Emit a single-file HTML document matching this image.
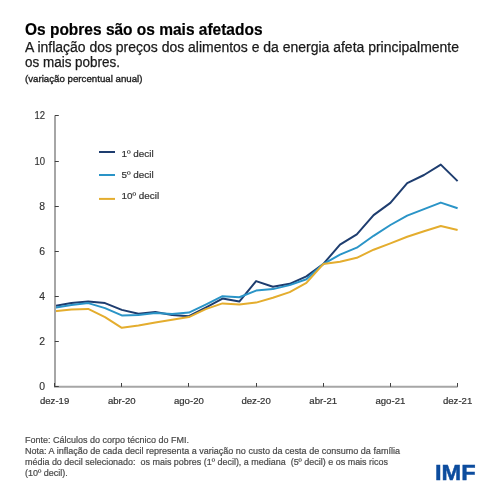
<!DOCTYPE html>
<html><head><meta charset="utf-8"><style>
html,body{margin:0;padding:0;background:#fff;width:499px;height:499px;overflow:hidden}
svg{display:block;will-change:transform}
</style></head><body>
<svg width="499" height="499" viewBox="0 0 499 499" font-family="Liberation Sans, sans-serif">
<rect width="499" height="499" fill="#fff"/>
<text x="25" y="34.5" font-size="16.8" font-weight="bold" fill="#000" stroke="#000" stroke-width="0.2" textLength="237.5" lengthAdjust="spacingAndGlyphs">Os pobres são os mais afetados</text>
<text x="25" y="51.6" font-size="14" fill="#1a1a1a" stroke="#1a1a1a" stroke-width="0.25" textLength="434" lengthAdjust="spacingAndGlyphs">A inflação dos preços dos alimentos e da energia afeta principalmente</text>
<text x="25" y="67.3" font-size="14" fill="#1a1a1a" stroke="#1a1a1a" stroke-width="0.25" textLength="95" lengthAdjust="spacingAndGlyphs">os mais pobres.</text>
<text x="25" y="81.7" font-size="9.8" fill="#222" stroke="#222" stroke-width="0.35" textLength="117.5" lengthAdjust="spacingAndGlyphs">(variação percentual anual)</text>
<polyline points="54.6,306.1 71.4,303.1 88.2,301.6 105.0,303.1 121.8,309.9 138.5,313.8 155.3,312.1 172.1,315.1 188.9,316.2 205.7,307.6 222.5,298.6 239.3,301.6 256.1,281.1 272.9,286.8 289.7,283.8 306.4,276.4 323.2,264.1 340.0,244.7 356.8,234.3 373.6,215.1 390.4,202.9 407.2,183.1 424.0,175.0 440.8,164.6 457.6,181.1" fill="none" stroke="#1e3d6f" stroke-width="2" stroke-linejoin="round"/>
<polyline points="54.6,307.8 71.4,305.1 88.2,303.1 105.0,308.1 121.8,315.4 138.5,315.1 155.3,313.1 172.1,314.1 188.9,312.6 205.7,304.6 222.5,296.2 239.3,297.2 256.1,290.6 272.9,289.1 289.7,285.1 306.4,279.2 323.2,264.1 340.0,254.7 356.8,247.7 373.6,235.8 390.4,225.0 407.2,215.6 424.0,209.1 440.8,202.6 457.6,208.3" fill="none" stroke="#2a94c7" stroke-width="2" stroke-linejoin="round"/>
<polyline points="54.6,311.3 71.4,309.6 88.2,308.9 105.0,317.1 121.8,327.8 138.5,325.6 155.3,322.6 172.1,319.8 188.9,317.1 205.7,309.1 222.5,303.4 239.3,304.6 256.1,302.6 272.9,297.8 289.7,292.1 306.4,282.9 323.2,264.1 340.0,261.8 356.8,257.8 373.6,249.7 390.4,243.4 407.2,236.8 424.0,231.2 440.8,226.0 457.6,230.0" fill="none" stroke="#e4ad2e" stroke-width="2" stroke-linejoin="round"/>
<polyline points="55,115.8 55,386.8 457.6,386.8" fill="none" stroke="#a6a6a6" stroke-width="2"/>
<line x1="54.8" y1="386.5" x2="58.8" y2="386.5" stroke="#404040" stroke-width="1"/><text x="45" y="390.4" text-anchor="end" font-size="10.4" fill="#333333" stroke="#333333" stroke-width="0.15">0</text><line x1="54.8" y1="341.5" x2="58.8" y2="341.5" stroke="#404040" stroke-width="1"/><text x="45" y="345.2" text-anchor="end" font-size="10.4" fill="#333333" stroke="#333333" stroke-width="0.15">2</text><line x1="54.8" y1="296.5" x2="58.8" y2="296.5" stroke="#404040" stroke-width="1"/><text x="45" y="300.1" text-anchor="end" font-size="10.4" fill="#333333" stroke="#333333" stroke-width="0.15">4</text><line x1="54.8" y1="251.5" x2="58.8" y2="251.5" stroke="#404040" stroke-width="1"/><text x="45" y="254.9" text-anchor="end" font-size="10.4" fill="#333333" stroke="#333333" stroke-width="0.15">6</text><line x1="54.8" y1="206.5" x2="58.8" y2="206.5" stroke="#404040" stroke-width="1"/><text x="45" y="209.8" text-anchor="end" font-size="10.4" fill="#333333" stroke="#333333" stroke-width="0.15">8</text><line x1="54.8" y1="161.5" x2="58.8" y2="161.5" stroke="#404040" stroke-width="1"/><text x="45" y="164.6" text-anchor="end" font-size="10.4" fill="#333333" stroke="#333333" stroke-width="0.15" textLength="10.6" lengthAdjust="spacingAndGlyphs">10</text><line x1="54.8" y1="115.5" x2="58.8" y2="115.5" stroke="#404040" stroke-width="1"/><text x="45" y="119.4" text-anchor="end" font-size="10.4" fill="#333333" stroke="#333333" stroke-width="0.15" textLength="10.6" lengthAdjust="spacingAndGlyphs">12</text>
<line x1="54.5" y1="383" x2="54.5" y2="386.8" stroke="#404040" stroke-width="1"/><text x="54.6" y="404" text-anchor="middle" font-size="9.6" fill="#333333" stroke="#333333" stroke-width="0.2">dez-19</text><line x1="121.5" y1="383" x2="121.5" y2="386.8" stroke="#404040" stroke-width="1"/><text x="121.8" y="404" text-anchor="middle" font-size="9.6" fill="#333333" stroke="#333333" stroke-width="0.2">abr-20</text><line x1="188.5" y1="383" x2="188.5" y2="386.8" stroke="#404040" stroke-width="1"/><text x="188.9" y="404" text-anchor="middle" font-size="9.6" fill="#333333" stroke="#333333" stroke-width="0.2">ago-20</text><line x1="256.5" y1="383" x2="256.5" y2="386.8" stroke="#404040" stroke-width="1"/><text x="256.1" y="404" text-anchor="middle" font-size="9.6" fill="#333333" stroke="#333333" stroke-width="0.2">dez-20</text><line x1="323.5" y1="383" x2="323.5" y2="386.8" stroke="#404040" stroke-width="1"/><text x="323.2" y="404" text-anchor="middle" font-size="9.6" fill="#333333" stroke="#333333" stroke-width="0.2">abr-21</text><line x1="390.5" y1="383" x2="390.5" y2="386.8" stroke="#404040" stroke-width="1"/><text x="390.4" y="404" text-anchor="middle" font-size="9.6" fill="#333333" stroke="#333333" stroke-width="0.2">ago-21</text><line x1="457.5" y1="383" x2="457.5" y2="386.8" stroke="#404040" stroke-width="1"/><text x="457.6" y="404" text-anchor="middle" font-size="9.6" fill="#333333" stroke="#333333" stroke-width="0.2">dez-21</text>
<line x1="99" y1="152" x2="115" y2="152" stroke="#1e3d6f" stroke-width="2"/>
<line x1="99" y1="175" x2="115" y2="175" stroke="#2a94c7" stroke-width="2"/>
<line x1="99" y1="198.9" x2="115" y2="198.9" stroke="#e4ad2e" stroke-width="2"/>
<text x="121.5" y="156.8" font-size="9.9" fill="#333333" stroke="#333333" stroke-width="0.2">1º decil</text>
<text x="121.5" y="177.5" font-size="9.9" fill="#333333" stroke="#333333" stroke-width="0.2">5º decil</text>
<text x="121.5" y="198.6" font-size="9.9" fill="#333333" stroke="#333333" stroke-width="0.2">10º decil</text>
<g font-size="9" fill="#4a4a4a" stroke="#4a4a4a" stroke-width="0.2">
<text x="25" y="442.5" textLength="164" lengthAdjust="spacingAndGlyphs">Fonte: Cálculos do corpo técnico do FMI.</text>
<text x="25" y="453.8" textLength="375" lengthAdjust="spacingAndGlyphs">Nota: A inflação de cada decil representa a variação no custo da cesta de consumo da família</text>
<text x="25" y="465" textLength="363" lengthAdjust="spacingAndGlyphs">média do decil selecionado:&#160; os mais pobres (1º decil), a mediana&#160; (5º decil) e os mais ricos</text>
<text x="25" y="476">(10º decil).</text>
</g>
<text x="435" y="479.6" font-size="22.6" font-weight="bold" fill="#0c4c9e" stroke="#0c4c9e" stroke-width="0.5" textLength="40.6" lengthAdjust="spacingAndGlyphs">IMF</text>
</svg>
</body></html>
